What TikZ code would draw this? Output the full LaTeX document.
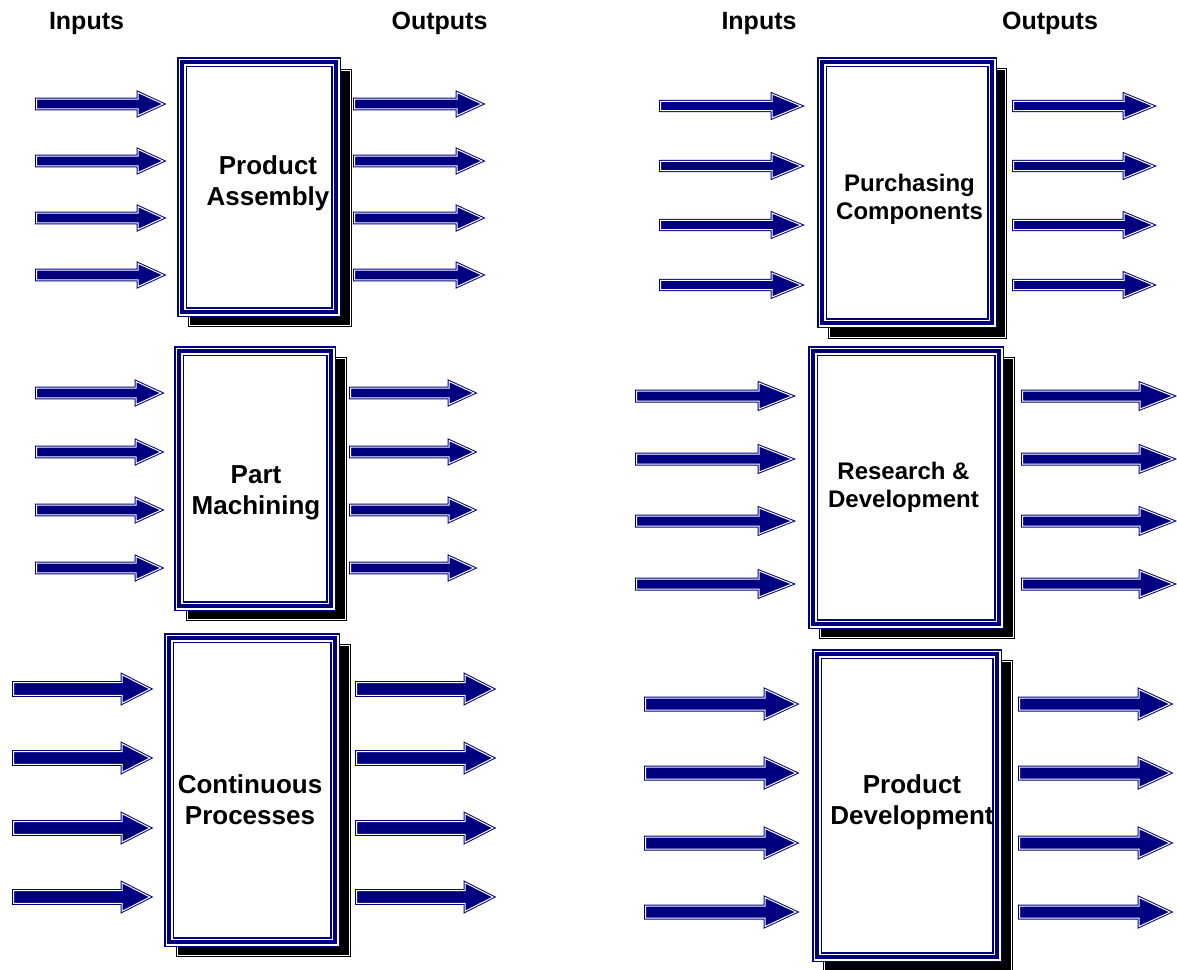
\documentclass[tikz,border=0pt]{standalone}
\usepackage{fontspec}
\setmainfont{Liberation Sans}
\usetikzlibrary{calc}
\definecolor{navyblue}{RGB}{0,0,128}
\tikzset{
  procbox/.style={rectangle,inner sep=0pt,draw=navyblue,line width=10pt,fill=white,
    postaction={draw=white,line width=7pt},postaction={draw=navyblue,line width=3.4pt}},
  shadowbox/.style={draw=black,fill=black,line width=1pt,double=white,double distance=1.2pt},
  blockarrow/.style n args={3}{draw=navyblue,fill=navyblue,line width=1pt,double=white,double distance=1pt,
    to path={($(\tikztostart)+(0,-#1)$) -- ($(\tikztotarget)+(-#3,-#1)$) -- ($(\tikztotarget)+(-#3,-#2)$)
      -- (\tikztotarget) -- ($(\tikztotarget)+(-#3,#2)$) -- ($(\tikztotarget)+(-#3,#1)$) -- ($(\tikztostart)+(0,#1)$) -- cycle}},
  boxtext/.style={align=center,inner sep=0pt,font=\bfseries\fontsize{26}{31}\selectfont},
  boxtextsm/.style={align=center,inner sep=0pt,font=\bfseries\fontsize{24}{28}\selectfont},
  headtext/.style={inner sep=0pt,anchor=base,font=\bfseries\fontsize{25}{30}\selectfont}
}
\begin{document}
\begin{tikzpicture}[x=1pt,y=-1pt]
  \useasboundingbox (0,0) rectangle (1177,969);

  \node[headtext](inL)at(86.5,29){Inputs};
  \node[headtext](outL)at(439.5,29){Outputs};
  \node[headtext](inR)at(759,29){Inputs};
  \node[headtext](outR)at(1050,29){Outputs};

  \draw[shadowbox](189.6,70.6) rectangle (350.4,325.4);
  \draw[shadowbox](187.6,358.6) rectangle (345.4,619.4);
  \draw[shadowbox](177.6,645.6) rectangle (349.4,955.4);
  \draw[shadowbox](829.6,69.6) rectangle (1005.4,337.4);
  \draw[shadowbox](820.6,358.6) rectangle (1013.4,637.4);
  \draw[shadowbox](824.6,661.6) rectangle (1011.4,971.4);

  \node[procbox,minimum width=154pt,minimum height=250pt](pa)at(259,187){};
  \node[procbox,minimum width=152pt,minimum height=255pt](pm)at(255,478.5){};
  \node[procbox,minimum width=166pt,minimum height=304pt](cp)at(252,790){};
  \node[procbox,minimum width=170pt,minimum height=261pt](pc)at(907,192.5){};
  \node[procbox,minimum width=186pt,minimum height=273pt](rd)at(906,487.5){};
  \node[procbox,minimum width=180pt,minimum height=303pt](pd)at(907,805.5){};

  \node[boxtext](paT)at(268,183){Product\\Assembly};
  \node[boxtext](pmT)at(256,493){Part\\Machining};
  \node[boxtext](cpT)at(250,800){Continuous\\Processes};
  \node[boxtextsm](pcT)at(909.5,199.5){Purchasing\\Components};
  \node[boxtextsm](rdT)at(903.5,487.5){Research \&\\Development};
  \node[boxtext](pdT)at(912,802){Product\\Development};

  \foreach \y in {104,161,218,275}{
    \draw[blockarrow={4.8}{11.5}{25}] (36.5,\y) to (163,\y);
    \draw[blockarrow={4.8}{11.5}{25}] (354.5,\y) to (482,\y);
  }
  \foreach \y in {393,452,510,568}{
    \draw[blockarrow={4.8}{11.5}{25}] (36.5,\y) to (161,\y);
    \draw[blockarrow={4.8}{11.5}{25}] (350.5,\y) to (474,\y);
  }
  \foreach \y in {689,758,828,897}{
    \draw[blockarrow={6.3}{14.3}{28}] (13.5,\y) to (150,\y);
    \draw[blockarrow={6.3}{14.3}{28}] (356.5,\y) to (493,\y);
  }
  \foreach \y in {106,166,225,285}{
    \draw[blockarrow={4.7}{12}{29}] (660.5,\y) to (801,\y);
    \draw[blockarrow={4.7}{12}{29}] (1013.5,\y) to (1153,\y);
  }
  \foreach \y in {396,459,521,584}{
    \draw[blockarrow={5}{13}{33}] (636.5,\y) to (792,\y);
    \draw[blockarrow={5}{13}{33}] (1022.5,\y) to (1173,\y);
  }
  \foreach \y in {704,773,843,912}{
    \draw[blockarrow={6}{14.5}{31}] (645.5,\y) to (796,\y);
    \draw[blockarrow={6}{14.5}{31}] (1019.5,\y) to (1170,\y);
  }
\end{tikzpicture}
\end{document}
